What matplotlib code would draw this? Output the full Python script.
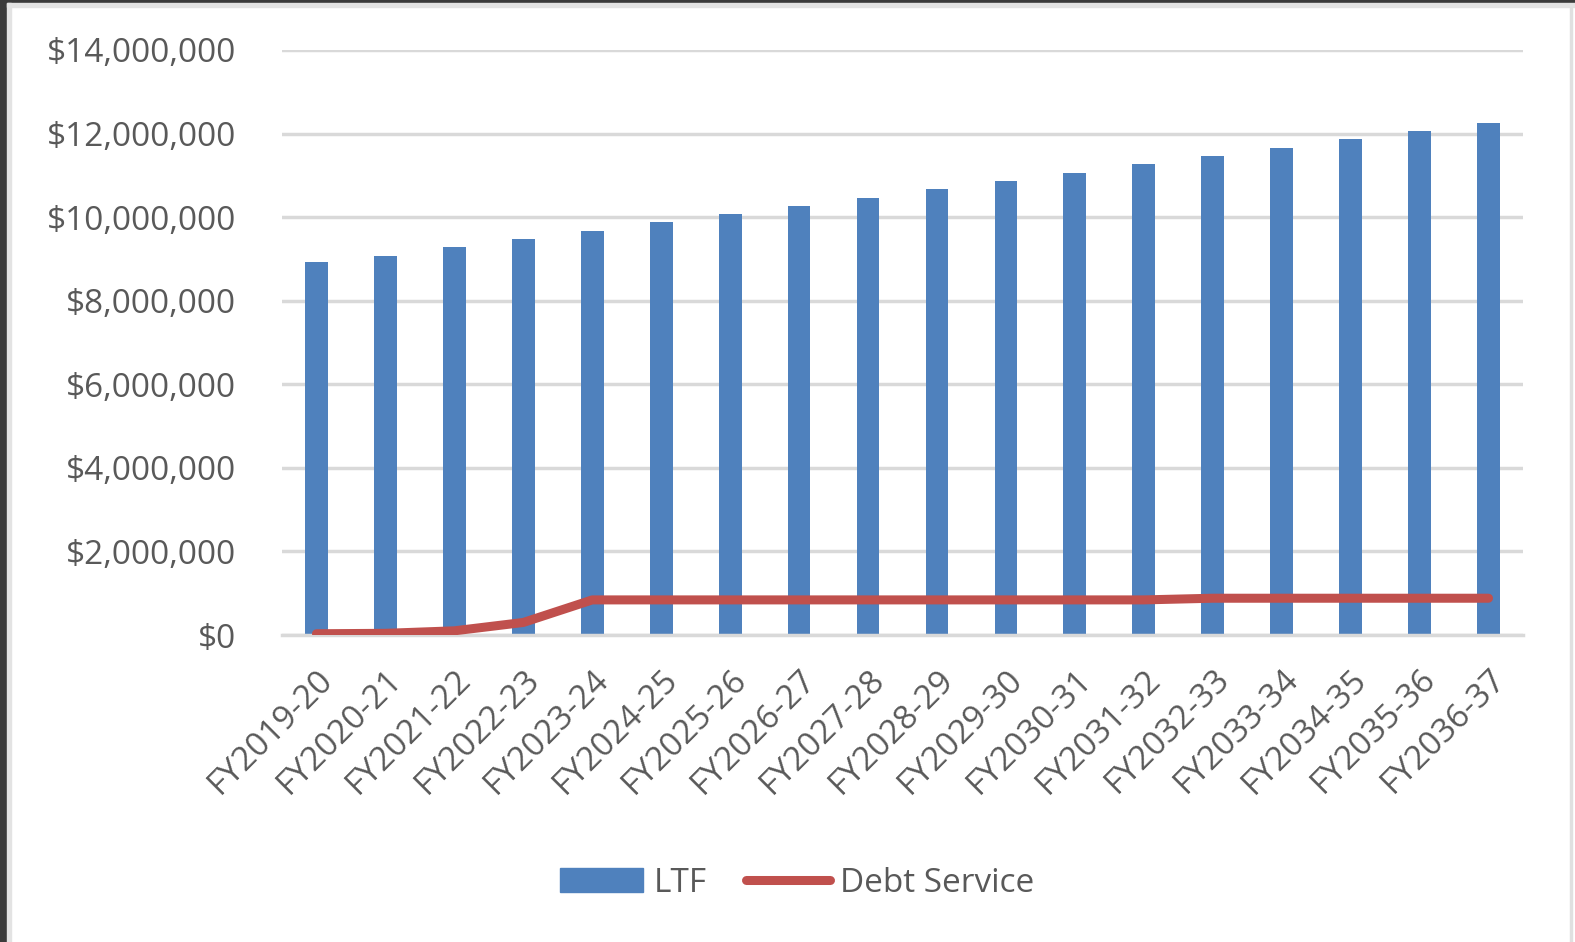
import numpy as np
import matplotlib
matplotlib.use("Agg")
import matplotlib.pyplot as plt
import matplotlib.ticker as ticker
from matplotlib.patches import Rectangle
from matplotlib.lines import Line2D

years = ["FY2019-20", "FY2020-21", "FY2021-22", "FY2022-23", "FY2023-24", "FY2024-25",
         "FY2025-26", "FY2026-27", "FY2027-28", "FY2028-29", "FY2029-30", "FY2030-31",
         "FY2031-32", "FY2032-33", "FY2033-34", "FY2034-35", "FY2035-36", "FY2036-37"]
ltf = [8.93, 9.08, 9.28, 9.48, 9.68, 9.88, 10.08, 10.27, 10.47, 10.67, 10.86, 11.06,
       11.27, 11.47, 11.66, 11.87, 12.07, 12.26]
debt = [0.03, 0.04, 0.10, 0.30, 0.84, 0.84, 0.84, 0.84, 0.84, 0.84, 0.84, 0.84,
        0.84, 0.88, 0.88, 0.88, 0.88, 0.88]
ltf = np.array(ltf) * 1e6
debt = np.array(debt) * 1e6

grey = "#595959"
blue = "#4f81bd"
red = "#c0504d"
plt.rcParams['font.family'] = ['Open Sans', 'DejaVu Sans']
fs = 24

fig = plt.figure(figsize=(15.75, 9.42), dpi=100)
W, H = 1575, 942

# screenshot frame
fig.patches.append(Rectangle((0, 0), 7 / W, 1, transform=fig.transFigure, color="#3b3b3b", zorder=0))
fig.patches.append(Rectangle((0, 1 - 3 / H), 1, 3 / H, transform=fig.transFigure, color="#3b3b3b", zorder=0))
fig.patches.append(Rectangle((7 / W, 0), 4 / W, 1 - 3 / H, transform=fig.transFigure, color="#e3e3e3", zorder=0))
fig.patches.append(Rectangle((7 / W, 1 - 7 / H), 1, 4 / H, transform=fig.transFigure, color="#e3e3e3", zorder=0))
fig.patches.append(Rectangle((1570 / W, 0), 2 / W, 1 - 7 / H, transform=fig.transFigure, color="#e0e0e0", zorder=0))

ax = fig.add_axes([282 / W, 1 - 635 / H, (1523 - 282) / W, (635 - 50) / H])
x = np.arange(len(years))
ax.bar(x, ltf, width=0.33, color=blue, zorder=2, label="LTF")
ax.plot(x, debt, color=red, lw=6.5, solid_capstyle="round", zorder=3, label="Debt Service")

ax.set_xlim(-0.5, len(years) - 0.5)
ax.set_ylim(0, 14e6)
ax.yaxis.set_major_locator(ticker.MultipleLocator(2e6))
ax.yaxis.set_major_formatter(ticker.FuncFormatter(lambda v, p: "${:,.0f}".format(v)))
ax.grid(axis="y", color="#d9d9d9", lw=2.5, zorder=0)
for s in ["top", "right", "left"]:
    ax.spines[s].set_visible(False)
ax.spines["bottom"].set_color("#d9d9d9")
ax.spines["bottom"].set_linewidth(2.5)
ax.tick_params(axis="both", length=0, colors=grey, labelsize=fs)
ax.tick_params(axis="y", pad=33)
ax.set_xticks(x)
ax.set_xticklabels(years, rotation=45, ha="right", rotation_mode="anchor")
ax.tick_params(axis="x", pad=20)

handles = [Rectangle((0, 0), 1, 1, color=blue),
           Line2D([0], [0], color=red, lw=6.5, solid_capstyle="round")]
fig.legend(handles, ["LTF", "Debt Service"], loc="center", bbox_to_anchor=(797 / W, 1 - 883 / H),
           ncol=2, frameon=False, fontsize=fs, labelcolor=grey, handlelength=2.5,
           handletextpad=0.3, columnspacing=1.2)

fig.savefig("out.png", dpi=100)
